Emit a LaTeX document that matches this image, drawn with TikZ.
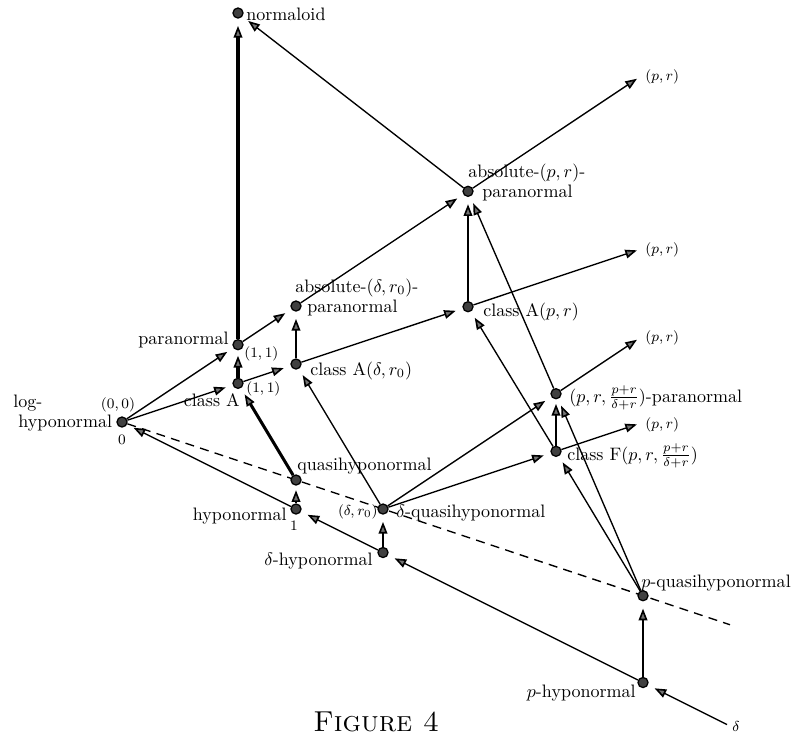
\documentclass[tikz,border=0pt]{standalone}
\usetikzlibrary{arrows.meta,backgrounds}
\begin{document}
\begin{tikzpicture}[x=0.555pt,y=-0.555pt,
  dot/.style={circle,fill=black!75,draw=black,line width=0.7pt,inner sep=0pt,minimum size=5.6pt},
  lab/.style={inner sep=0pt,font=\normalsize},
  sm/.style={inner sep=0pt,font=\footnotesize},
  tipA/.style={-{Triangle[length=6.5pt,width=4.8pt,fill=black!55,line width=0.9pt]}},
  ed/.style={line width=0.75pt,tipA,shorten >=4pt},
  tk/.style={ed,line width=1.7pt},
  fr/.style={line width=0.75pt,tipA},
  dsh/.style={line width=0.75pt,dash pattern=on 5pt off 3.5pt}
]
\useasboundingbox (0,0) rectangle (793,735);

% dots
\node[dot] (N) at (238,13) {};
\node[dot] (L) at (122,422) {};
\node[dot] (P) at (238,344.7) {};
\node[dot] (CA) at (238,383.3) {};
\node[dot] (ADP) at (296,306) {};
\node[dot] (CAD) at (296,364) {};
\node[dot] (APR) at (468,191.3) {};
\node[dot] (CAP) at (468,306.7) {};
\node[dot] (PRP) at (556,393.7) {};
\node[dot] (F) at (556,451.3) {};
\node[dot] (Q) at (296,480) {};
\node[dot] (H) at (296,509) {};
\node[dot] (DQ) at (383,509) {};
\node[dot] (DH) at (383,552.5) {};
\node[dot] (PQ) at (643,595.7) {};
\node[dot] (PH) at (643,682.5) {};

\coordinate (dend) at (727,724.5);
\coordinate (qend) at (730,624.7);
\coordinate (e1) at (637,78.7);
\coordinate (e2) at (637,250.3);
\coordinate (e3) at (637,339.7);
\coordinate (e4) at (637,424.3);

\begin{scope}[on background layer]
% bottom line
\draw[ed] (dend) -- (PH);
\draw[ed] (PH) -- (DH);
\draw[ed] (DH) -- (H);
\draw[ed] (H) -- (L);
% dashed line
\draw[dsh] (L) -- (qend);
% verticals
\draw[ed,shorten >=2.5pt] (H) -- (Q);
\draw[ed] (DH) -- (DQ);
\draw[ed] (PH) -- (PQ);
\draw[ed] (CAD) -- (ADP);
\draw[ed] (CAP) -- (APR);
\draw[ed,shorten >=2.5pt] (F) -- (PRP);
% thick
\draw[tk] (Q) -- (CA);
\draw[tk,shorten >=3pt] (CA) -- (P);
\draw[tk] (P) -- (N);
% upper line
\draw[ed] (L) -- (P);
\draw[ed] (P) -- (ADP);
\draw[ed] (ADP) -- (APR);
\draw[fr] (APR) -- (e1);
% class A line
\draw[ed] (L) -- (CA);
\draw[ed] (CA) -- (CAD);
\draw[ed] (CAD) -- (CAP);
\draw[fr] (CAP) -- (e2);
% from delta-quasi
\draw[ed] (DQ) -- (CAD);
\draw[ed] (DQ) -- (PRP);
\draw[fr] (PRP) -- (e3);
\draw[ed] (DQ) -- (F);
\draw[fr] (F) -- (e4);
% from p-quasi
\draw[ed] (PQ) -- (F);
\draw[ed] (F) -- (CAP);
\draw[ed] (PQ) -- (PRP);
\draw[ed] (PRP) -- (APR);
% to normaloid
\draw[ed] (APR) -- (N);
\end{scope}

% labels
\node[lab,anchor=west] (tN) at (246,14) {normaloid};
\node[lab,anchor=base west] (tL1) at (13,407) {log-};
\node[lab,anchor=base west] (tL2) at (18,427) {hyponormal};
\node[sm] (t00) at (118,405) {$(0,0)$};
\node[sm] (t0) at (122,440) {$0$};
\node[lab,anchor=base east] (tP) at (229,344) {paranormal};
\node[sm,anchor=base west] (t11a) at (244,357) {$(1,1)$};
\node[lab,anchor=base east] (tCA) at (240,406) {class A};
\node[sm,anchor=base west] (t11b) at (246,392) {$(1,1)$};
\node[lab,anchor=base west] (tADP1) at (295,292) {absolute-$(\delta,r_0)$-};
\node[lab,anchor=base west] (tADP2) at (307,312) {paranormal};
\node[lab,anchor=base west] (tCAD) at (310,375) {class A$(\delta,r_0)$};
\node[lab,anchor=base west] (tAPR1) at (468,177) {absolute-$(p,r)$-};
\node[lab,anchor=base west] (tAPR2) at (482,197) {paranormal};
\node[lab,anchor=base west] (tCAP) at (483,316) {class A$(p,r)$};
\node[lab,anchor=base west] (tPRP) at (569,402) {$(p,r,\frac{p+r}{\delta+r})$-paranormal};
\node[lab,anchor=base west] (tF) at (567,460) {class F$(p,r,\frac{p+r}{\delta+r})$};
\node[sm,anchor=west] (te1) at (645,77) {$(p,r)$};
\node[sm,anchor=west] (te2) at (645,250) {$(p,r)$};
\node[sm,anchor=west] (te3) at (645,338) {$(p,r)$};
\node[sm,anchor=west] (te4) at (645,425) {$(p,r)$};
\node[lab,anchor=base west] (tQ) at (297,470) {quasihyponormal};
\node[lab,anchor=base east] (tH) at (287,520) {hyponormal};
\node[sm] (t1) at (294,526) {$1$};
\node[sm,anchor=east] (tdr) at (378,512) {$(\delta,r_0)$};
\node[lab,anchor=base west] (tDQ) at (396,517) {$\delta$-quasihyponormal};
\node[lab,anchor=base east] (tDH) at (373,565) {$\delta$-hyponormal};
\node[lab,anchor=base west] (tPQ) at (641,587) {$p$-quasihyponormal};
\node[lab,anchor=base east] (tPH) at (636,697) {$p$-hyponormal};
\node[sm] (td) at (736,726) {$\delta$};
\node[inner sep=0pt,anchor=base west,font=\fontsize{16}{18}\selectfont] (cap) at (313,731) {\textsc{Figure 4}};
\end{tikzpicture}
\end{document}
